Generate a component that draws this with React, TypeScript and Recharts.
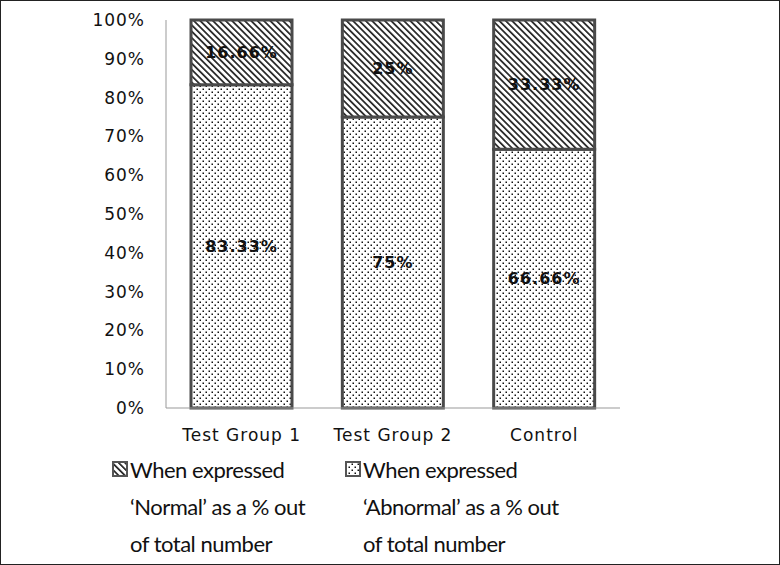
import { Bar, BarChart, LabelList, Legend, XAxis, YAxis } from "recharts"

const groups = ["Test Group 1", "Test Group 2", "Control"]
const abnormalPct = [83.33, 75, 66.66]
const normalPct = [16.66, 25, 33.33]
const yTicks = [0, 10, 20, 30, 40, 50, 60, 70, 80, 90, 100]

const normalName = "When expressed\n‘Normal’ as a % out\nof total number"
const abnormalName = "When expressed\n‘Abnormal’ as a % out\nof total number"

const data = groups.map((g, i) => ({
  group: g,
  abnormal: abnormalPct[i],
  normal: normalPct[i],
}))

const pct = (v: any) => `${v}%`

function Patterns() {
  return (
    <svg width="0" height="0" style={{ position: "absolute" }}>
      <defs>
        <pattern id="dots" width="6" height="6" patternUnits="userSpaceOnUse">
          <rect width="6" height="6" fill="#fff" />
          <rect x="0.5" y="0.5" width="1.5" height="1.5" fill="#111" />
          <rect x="3.5" y="3.5" width="1.5" height="1.5" fill="#111" />
        </pattern>
        <pattern
          id="hatch"
          width="4.5"
          height="4.5"
          patternUnits="userSpaceOnUse"
          patternTransform="rotate(-45)"
        >
          <rect width="4.5" height="4.5" fill="#fff" />
          <rect width="1.7" height="4.5" fill="#222" />
        </pattern>
      </defs>
    </svg>
  )
}

function LegendBox({ payload }: any) {
  const items = [...(payload || [])].reverse()
  return (
    <div style={{ display: "flex", paddingLeft: 111 }}>
      {items.map((it: any) => (
        <div key={it.value} style={{ display: "flex", width: 233 }}>
          <svg width="18" height="37" style={{ flex: "none" }}>
            <rect x="1" y="11" width="14" height="14" fill={it.color} stroke="#555" strokeWidth="2" />
          </svg>
          <div
            style={{
              whiteSpace: "pre",
              fontFamily: "Lato",
              fontSize: 22,
              letterSpacing: -0.5,
              lineHeight: "37px",
              color: "#111",
            }}
          >
            {it.value}
          </div>
        </div>
      ))}
    </div>
  )
}

export default function App() {
  return (
    <div
      style={{
        position: "absolute",
        left: 0,
        top: 0,
        width: 780,
        height: 565,
        border: "1px solid #222",
        boxSizing: "border-box",
        background: "#fff",
      }}
    >
      <Patterns />
      <BarChart
        width={778}
        height={563}
        data={data}
        margin={{ top: 19, right: 159, bottom: 126, left: 85 }}
      >
        <XAxis
          dataKey="group"
          axisLine={{ stroke: "#999" }}
          tickLine={false}
          tickSize={0}
          tickMargin={21}
          tick={{ fontFamily: "DejaVu Sans", fontSize: 17, fill: "#111", letterSpacing: 1 }}
        />
        <YAxis
          domain={[0, 100]}
          ticks={yTicks}
          tickFormatter={pct}
          width={80}
          axisLine={{ stroke: "#999" }}
          tickLine={false}
          tickSize={0}
          tickMargin={21}
          tick={{ fontFamily: "DejaVu Sans", fontSize: 17, fill: "#111", letterSpacing: 1 }}
        />
        <Legend
          layout="vertical"
          align="center"
          verticalAlign="middle"
          wrapperStyle={{ left: 0, top: 450, width: 778 }}
          content={<LegendBox />}
        />
        <Bar
          dataKey="abnormal"
          name={abnormalName}
          stackId="a"
          fill="url(#dots)"
          stroke="#4a4a4a"
          strokeWidth={3}
          barSize={101}
          isAnimationActive={false}
        >
          <LabelList
            dataKey="abnormal"
            position="center"
            formatter={pct}
            style={{ fontFamily: "DejaVu Sans", fontSize: 16, fontWeight: "bold", fill: "#111", letterSpacing: 1 }}
          />
        </Bar>
        <Bar
          dataKey="normal"
          name={normalName}
          stackId="a"
          fill="url(#hatch)"
          stroke="#4a4a4a"
          strokeWidth={3}
          barSize={101}
          isAnimationActive={false}
        >
          <LabelList
            dataKey="normal"
            position="center"
            formatter={pct}
            style={{ fontFamily: "DejaVu Sans", fontSize: 16, fontWeight: "bold", fill: "#111", letterSpacing: 1 }}
          />
        </Bar>
      </BarChart>
    </div>
  )
}
